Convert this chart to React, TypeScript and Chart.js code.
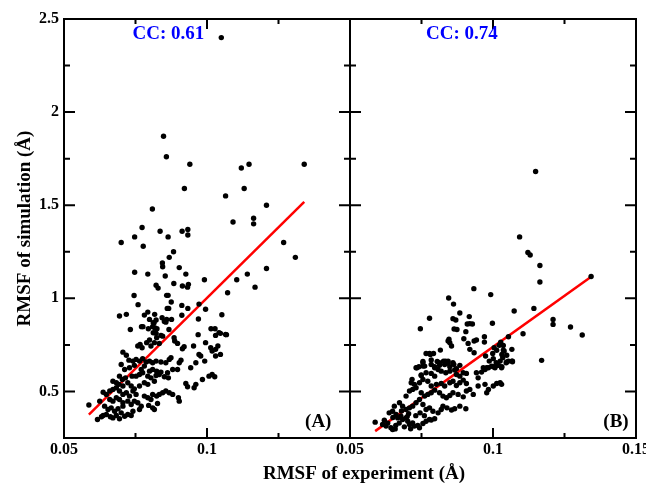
import { useEffect, useRef } from "react";
import { Chart, registerables } from "chart.js";

Chart.register(...registerables);

// ---- axis ranges and tick labels ----
const xRange = [0.05, 0.15];
const yRange = [0.25, 2.5];
const xStep = 0.025;
const yStep = 0.25;
const xTickLabelsA = ["0.05", "0.1"];
const xTickLabelsB = ["0.05", "0.1", "0.15"];
const yTickLabels = ["0.5", "1", "1.5", "2", "2.5"];

const xTitle = "RMSF of experiment (Å)";
const yTitle = "RMSF of simulation (Å)";
const ccLabels = ["CC: 0.61", "CC: 0.74"];
const panelLabels = ["(A)", "(B)"];

// ---- regression lines (x, y) ----
const lineAX = [0.0587, 0.134];
const lineAY = [0.376, 1.518];
const lineBX = [0.0588, 0.1342];
const lineBY = [0.287, 1.115];

// ---- panel A points [experiment, simulation] ----
const pointsA: number[][] = [
  [0.105, 2.4], [0.0848, 1.87], [0.0858, 1.76], [0.094, 1.72], [0.112, 1.7], [0.1147, 1.72], [0.134, 1.72],
  [0.0921, 1.59], [0.113, 1.59], [0.1065, 1.55], [0.1208, 1.5], [0.0809, 1.48], [0.1091, 1.41], [0.1163, 1.43],
  [0.1163, 1.4], [0.0773, 1.38], [0.0836, 1.36], [0.0864, 1.33], [0.0747, 1.33], [0.0913, 1.36], [0.0933, 1.37],
  [0.0933, 1.34], [0.07, 1.3], [0.1268, 1.3], [0.0777, 1.28],
  [0.1309, 1.22], [0.1141, 1.13], [0.1208, 1.16], [0.1104, 1.1], [0.1168, 1.06], [0.1072, 1.03], [0.0991, 1.1],
  [0.0747, 1.14], [0.0793, 1.13], [0.0844, 1.19], [0.0845, 1.17], [0.0883, 1.25], [0.0868, 1.22], [0.0903, 1.165],
  [0.0926, 1.13], [0.0854, 1.12], [0.0822, 1.07], [0.0829, 1.055], [0.0884, 1.08], [0.0914, 1.066], [0.0932, 1.06],
  [0.0935, 1.075], [0.0859, 1.016], [0.0864, 1.016], [0.0745, 1.015], [0.0875, 0.98], [0.0759, 0.966], [0.0972, 0.969],
  [0.0861, 0.946], [0.0866, 0.946], [0.0912, 0.962], [0.0933, 0.946], [0.0995, 0.941], [0.0694, 0.905], [0.0718, 0.914],
  [0.0793, 0.926], [0.0817, 0.914], [0.1052, 0.912], [0.0843, 0.896], [0.0912, 0.909], [0.097, 0.889], [0.0732, 0.833],
  [0.0771, 0.848], [0.0776, 0.848], [0.0815, 0.869], [0.0817, 0.842], [0.0851, 0.876], [0.0856, 0.872], [0.0867, 0.833],
  [0.0845, 0.797], [0.0885, 0.789], [0.1014, 0.837], [0.1028, 0.837], [0.1042, 0.816], [0.103, 0.801], [0.1068, 0.805],
  [0.0969, 0.805],
  [0.0781, 0.91], [0.0799, 0.887], [0.0812, 0.869], [0.0822, 0.884], [0.0859, 0.887], [0.0876, 0.887], [0.0795, 0.837],
  [0.081, 0.848], [0.0825, 0.837], [0.0812, 0.815], [0.0822, 0.812], [0.0839, 0.801], [0.1047, 0.812],
  [0.0587, 0.427], [0.0617, 0.349], [0.0631, 0.364], [0.0637, 0.371], [0.0648, 0.376], [0.0662, 0.364], [0.0671, 0.358],
  [0.0683, 0.371], [0.0694, 0.353], [0.0712, 0.367], [0.0723, 0.376], [0.0735, 0.371], [0.0741, 0.394], [0.0642, 0.421],
  [0.0654, 0.403], [0.0665, 0.412], [0.0677, 0.394], [0.0689, 0.407], [0.07, 0.385], [0.0706, 0.421], [0.0625, 0.448],
  [0.066, 0.457], [0.0671, 0.448], [0.0683, 0.466], [0.0694, 0.457], [0.0706, 0.439], [0.0723, 0.448], [0.0735, 0.43],
  [0.0746, 0.448], [0.0758, 0.439], [0.077, 0.421], [0.0764, 0.403], [0.0796, 0.425], [0.081, 0.412], [0.0816, 0.403],
  [0.0827, 0.435], [0.0637, 0.496], [0.0648, 0.484], [0.066, 0.502], [0.0671, 0.511], [0.0683, 0.52], [0.0694, 0.502],
  [0.0706, 0.484], [0.0718, 0.493], [0.0729, 0.475], [0.0741, 0.502], [0.0752, 0.484], [0.0781, 0.475], [0.0793, 0.466],
  [0.0804, 0.457], [0.081, 0.484], [0.0824, 0.475], [0.0833, 0.484], [0.0845, 0.493], [0.0856, 0.502], [0.0868, 0.493],
  [0.088, 0.484], [0.09, 0.466], [0.0903, 0.448], [0.0671, 0.555], [0.0683, 0.547], [0.0692, 0.538], [0.0706, 0.529],
  [0.0723, 0.547], [0.0735, 0.529], [0.0746, 0.514], [0.0764, 0.529], [0.0781, 0.547], [0.0793, 0.538], [0.0816, 0.555],
  [0.0694, 0.582], [0.0704, 0.564], [0.0715, 0.573], [0.0738, 0.582], [0.0752, 0.582], [0.0764, 0.591], [0.0775, 0.6],
  [0.0793, 0.582], [0.0804, 0.573], [0.0822, 0.586], [0.0833, 0.591], [0.0851, 0.579], [0.0865, 0.573], [0.07, 0.645],
  [0.0712, 0.618], [0.0729, 0.627], [0.0746, 0.64], [0.077, 0.618], [0.0781, 0.636], [0.0799, 0.609], [0.081, 0.618],
  [0.0824, 0.609], [0.0839, 0.604], [0.0862, 0.6], [0.088, 0.618], [0.0897, 0.618], [0.0909, 0.668], [0.0903, 0.654],
  [0.0706, 0.711], [0.0718, 0.694], [0.0727, 0.668], [0.0741, 0.663], [0.0752, 0.672], [0.0764, 0.663], [0.0775, 0.676],
  [0.0787, 0.658], [0.0799, 0.663], [0.081, 0.654], [0.0822, 0.663], [0.0839, 0.658], [0.0856, 0.654], [0.0868, 0.672],
  [0.0874, 0.681], [0.0819, 0.815], [0.0824, 0.789], [0.0816, 0.762], [0.0833, 0.758], [0.0799, 0.776], [0.0789, 0.762],
  [0.0804, 0.744], [0.0766, 0.753], [0.0773, 0.735], [0.0758, 0.744], [0.0887, 0.771], [0.0897, 0.758], [0.092, 0.74],
  [0.0914, 0.729], [0.0943, 0.627], [0.0961, 0.654], [0.0972, 0.699], [0.0926, 0.543], [0.0932, 0.525], [0.0955, 0.52],
  [0.0961, 0.538], [0.0984, 0.564], [0.1007, 0.582], [0.1018, 0.591], [0.1027, 0.579], [0.0995, 0.762], [0.1013, 0.735],
  [0.1018, 0.717], [0.103, 0.726], [0.1038, 0.744], [0.103, 0.69], [0.1047, 0.699], [0.1065, 0.806], [0.0953, 0.744],
  [0.0978, 0.69], [0.0992, 0.663],
];

// ---- panel B points [experiment, simulation] ----
const pointsB: number[][] = [
  [0.1149, 1.681], [0.1093, 1.33], [0.1122, 1.246], [0.113, 1.233], [0.1164, 1.176], [0.1164, 1.088], [0.1343, 1.117],
  [0.0845, 1.002], [0.0862, 0.969], [0.0933, 1.052], [0.0992, 1.02], [0.1143, 0.946], [0.1074, 0.932], [0.121, 0.887],
  [0.121, 0.86], [0.1271, 0.846], [0.1312, 0.803], [0.117, 0.667], [0.1105, 0.81], [0.1054, 0.794], [0.0998, 0.866],
  [0.0884, 0.921], [0.0917, 0.902], [0.0778, 0.893], [0.086, 0.891], [0.087, 0.884], [0.091, 0.862], [0.0919, 0.864],
  [0.0928, 0.862], [0.0746, 0.837], [0.0864, 0.835], [0.0874, 0.833], [0.0905, 0.821], [0.097, 0.794], [0.097, 0.765],
  [0.0898, 0.783], [0.0934, 0.771], [0.0942, 0.776], [0.0913, 0.758], [0.0843, 0.771], [0.0849, 0.762], [0.0846, 0.78],
  [0.0855, 0.744], [0.0919, 0.726], [0.0934, 0.708], [0.1027, 0.765], [0.1022, 0.748], [0.1004, 0.735], [0.1013, 0.721],
  [0.1036, 0.722], [0.1031, 0.699], [0.1048, 0.694], [0.1066, 0.726], [0.1068, 0.663], [0.1054, 0.663], [0.0999, 0.704],
  [0.1001, 0.676], [0.0974, 0.69], [0.0987, 0.663], [0.1011, 0.654], [0.1019, 0.64], [0.1031, 0.633], [0.1001, 0.633],
  [0.0816, 0.722], [0.0766, 0.704], [0.0778, 0.704], [0.0792, 0.704], [0.0755, 0.661], [0.0761, 0.636],
  [0.0784, 0.669], [0.0805, 0.661], [0.0813, 0.64], [0.0827, 0.663], [0.0834, 0.663], [0.0843, 0.651], [0.0849, 0.633],
  [0.0863, 0.645], [0.0872, 0.622], [0.0731, 0.627], [0.0741, 0.633], [0.0796, 0.633], [0.0978, 0.627], [0.0966, 0.627],
  [0.1036, 0.747], [0.1039, 0.717], [0.1034, 0.681], [0.1046, 0.654], [0.1068, 0.659], [0.103, 0.627], [0.103, 0.538],
  [0.0588, 0.335], [0.0614, 0.323], [0.0626, 0.314], [0.0643, 0.305], [0.0649, 0.296], [0.0658, 0.299],
  [0.0637, 0.385], [0.0649, 0.394], [0.0661, 0.376], [0.0667, 0.358], [0.0678, 0.367], [0.0684, 0.349], [0.0696, 0.358],
  [0.0702, 0.34], [0.0708, 0.323], [0.0719, 0.331], [0.0725, 0.314], [0.0737, 0.317], [0.0743, 0.305], [0.0755, 0.328],
  [0.0766, 0.34], [0.0778, 0.349], [0.0784, 0.346], [0.0796, 0.353],
  [0.0655, 0.421], [0.0673, 0.439], [0.0684, 0.421], [0.0696, 0.403], [0.0708, 0.412], [0.0719, 0.421], [0.0731, 0.439],
  [0.0743, 0.457], [0.0755, 0.43], [0.0766, 0.403], [0.0778, 0.412], [0.079, 0.394], [0.0808, 0.385], [0.0819, 0.403],
  [0.0825, 0.421], [0.0839, 0.412], [0.0855, 0.4], [0.0866, 0.407], [0.0884, 0.421], [0.0905, 0.407],
  [0.0696, 0.475], [0.0708, 0.502], [0.0719, 0.511], [0.0731, 0.52], [0.0749, 0.493], [0.0761, 0.475], [0.0772, 0.484],
  [0.0784, 0.493], [0.0796, 0.507], [0.0813, 0.493], [0.0825, 0.475], [0.0837, 0.466], [0.0849, 0.478], [0.086, 0.493],
  [0.0878, 0.484], [0.0896, 0.471], [0.0907, 0.502], [0.0919, 0.511],
  [0.0714, 0.547], [0.0725, 0.538], [0.0743, 0.547], [0.0755, 0.564], [0.0772, 0.555], [0.0784, 0.529], [0.0802, 0.538],
  [0.0819, 0.543], [0.0831, 0.529], [0.0849, 0.547], [0.086, 0.555], [0.0872, 0.532], [0.0884, 0.547], [0.0896, 0.561],
  [0.0907, 0.543],
  [0.0749, 0.586], [0.0766, 0.6], [0.0784, 0.597], [0.0796, 0.582], [0.0808, 0.618], [0.0819, 0.609], [0.0835, 0.6],
  [0.0849, 0.609], [0.0866, 0.615], [0.0872, 0.591], [0.0884, 0.582], [0.0896, 0.6], [0.0907, 0.597],
  [0.0755, 0.636], [0.0784, 0.645], [0.0796, 0.627], [0.0813, 0.654], [0.0831, 0.645], [0.0843, 0.663], [0.086, 0.654],
  [0.0884, 0.64],
  [0.0942, 0.6], [0.0948, 0.573], [0.096, 0.604], [0.0972, 0.618], [0.0984, 0.627], [0.0995, 0.636], [0.1007, 0.627],
  [0.1013, 0.64], [0.1025, 0.663], [0.1048, 0.658], [0.1066, 0.663],
  [0.0931, 0.484], [0.0948, 0.529], [0.0972, 0.538], [0.0978, 0.493], [0.0984, 0.511], [0.1001, 0.529], [0.1013, 0.543],
  [0.1025, 0.547],
  [0.062, 0.345], [0.0632, 0.33], [0.066, 0.318], [0.0672, 0.33], [0.069, 0.31], [0.07, 0.365], [0.0712, 0.3],
  [0.065, 0.36], [0.068, 0.395], [0.0705, 0.38], [0.073, 0.37], [0.0745, 0.385], [0.076, 0.37],
  [0.0734, 0.627], [0.0749, 0.588], [0.0717, 0.565], [0.0755, 0.654], [0.0781, 0.699],
];

const SERIF = "'Liberation Serif', 'Times New Roman', Times, serif";

function fmt(v: number) {
  return String(Number(v.toFixed(3)));
}
function isMultiple(v: number, step: number) {
  const r = v / step;
  return Math.abs(r - Math.round(r)) < 1e-6;
}

const framePlugin = {
  id: "frameAndText",
  afterDraw(chart: any) {
    const ctx = chart.ctx as CanvasRenderingContext2D;
    const { top, bottom } = chart.chartArea;
    const yS = chart.scales.y;
    ctx.save();
    ctx.strokeStyle = "#000";
    ctx.lineWidth = 2;
    ["x1", "x2"].forEach((id) => {
      const xs = chart.scales[id];
      const l = xs.left;
      const r = xs.right;
      ctx.beginPath();
      ctx.rect(l, top, r - l, bottom - top);
      xs.ticks.forEach((t: any) => {
        const p = xs.getPixelForValue(t.value);
        const len = isMultiple(t.value, 0.05) ? 10 : 5;
        ctx.moveTo(p, bottom);
        ctx.lineTo(p, bottom - len);
        ctx.moveTo(p, top);
        ctx.lineTo(p, top + len);
      });
      yS.ticks.forEach((t: any) => {
        const p = yS.getPixelForValue(t.value);
        const len = isMultiple(t.value, 0.5) ? 11 : 6;
        ctx.moveTo(l, p);
        ctx.lineTo(l + len, p);
        ctx.moveTo(r, p);
        ctx.lineTo(r - len, p);
      });
      ctx.stroke();
    });

    const xa = chart.scales.x1;
    const xb = chart.scales.x2;
    ctx.textAlign = "center";
    ctx.textBaseline = "middle";

    // CC labels
    ctx.fillStyle = "#0000ff";
    ctx.font = `bold 19px ${SERIF}`;
    ctx.fillText(ccLabels[0], xa.getPixelForValue(0.0865), yS.getPixelForValue(2.42));
    ctx.fillText(ccLabels[1], xb.getPixelForValue(0.0891), yS.getPixelForValue(2.42));

    // panel labels
    ctx.fillStyle = "#000";
    ctx.font = `bold 19px ${SERIF}`;
    ctx.fillText(panelLabels[0], xa.getPixelForValue(0.1389), yS.getPixelForValue(0.333));
    ctx.fillText(panelLabels[1], xb.getPixelForValue(0.143), yS.getPixelForValue(0.333));

    // axis titles
    ctx.font = `bold 19px ${SERIF}`;
    ctx.fillText(xTitle, (xa.left + xb.right) / 2 + 14, bottom + 36);
    ctx.save();
    ctx.translate(25, (top + bottom) / 2);
    ctx.rotate(-Math.PI / 2);
    ctx.fillText(yTitle, 0, 0);
    ctx.restore();
    ctx.restore();
  },
};

export default function App() {
  const ref = useRef<HTMLCanvasElement | null>(null);

  useEffect(() => {
    if (!ref.current) return;
    const tickFont = { family: SERIF, size: 16, weight: "bold" as const };
    const xScale = (labels: string[]) => ({
      type: "linear" as const,
      axis: "x" as const,
      position: "bottom" as const,
      stack: "panels",
      stackWeight: 1,
      min: xRange[0],
      max: xRange[1],
      grid: { display: false, drawTicks: false },
      border: { display: false },
      ticks: {
        stepSize: xStep,
        autoSkip: false,
        maxRotation: 0,
        padding: 2,
        color: "#000",
        font: tickFont,
        callback: (v: any) => {
          const s = fmt(Number(v));
          return labels.includes(s) ? s : "";
        },
      },
      afterFit: (s: any) => {
        s.height = 45;
        s.paddingLeft = 0;
        s.paddingRight = 0;
      },
    });

    const chart = new Chart(ref.current, {
      type: "scatter",
      data: {
        datasets: [
          {
            data: pointsA.map((p) => ({ x: p[0], y: p[1] })),
            xAxisID: "x1",
            yAxisID: "y",
            backgroundColor: "#000",
            borderWidth: 0,
            pointRadius: 2.7,
          },
          {
            data: pointsB.map((p) => ({ x: p[0], y: p[1] })),
            xAxisID: "x2",
            yAxisID: "y",
            backgroundColor: "#000",
            borderWidth: 0,
            pointRadius: 2.7,
          },
          {
            data: lineAX.map((x, i) => ({ x, y: lineAY[i] })),
            xAxisID: "x1",
            yAxisID: "y",
            showLine: true,
            borderColor: "#ff0000",
            borderWidth: 2.5,
            pointRadius: 0,
          },
          {
            data: lineBX.map((x, i) => ({ x, y: lineBY[i] })),
            xAxisID: "x2",
            yAxisID: "y",
            showLine: true,
            borderColor: "#ff0000",
            borderWidth: 2.5,
            pointRadius: 0,
          },
        ],
      },
      options: {
        animation: false,
        responsive: false,
        devicePixelRatio: 1,
        layout: { padding: { top: 19, right: 10, left: 0, bottom: 0 } },
        plugins: {
          legend: { display: false },
          tooltip: { enabled: false },
          title: { display: false },
        },
        scales: {
          x1: xScale(xTickLabelsA),
          x2: xScale(xTickLabelsB),
          y: {
            type: "linear",
            position: "left",
            min: yRange[0],
            max: yRange[1],
            grid: { display: false, drawTicks: false },
            border: { display: false },
            ticks: {
              stepSize: yStep,
              autoSkip: false,
              padding: 5,
              color: "#000",
              font: tickFont,
              callback: (v: any) => {
                const s = fmt(Number(v));
                return yTickLabels.includes(s) ? s : "";
              },
            },
            afterFit: (s: any) => {
              s.width = 64;
              s.paddingTop = 0;
              s.paddingBottom = 0;
            },
          },
        },
      } as any,
      plugins: [framePlugin],
    });
    return () => chart.destroy();
  }, []);

  return (
    <div style={{ position: "fixed", left: 0, top: 0, width: 646, height: 483, background: "#fff" }}>
      <canvas ref={ref} width={646} height={483} />
    </div>
  );
}
